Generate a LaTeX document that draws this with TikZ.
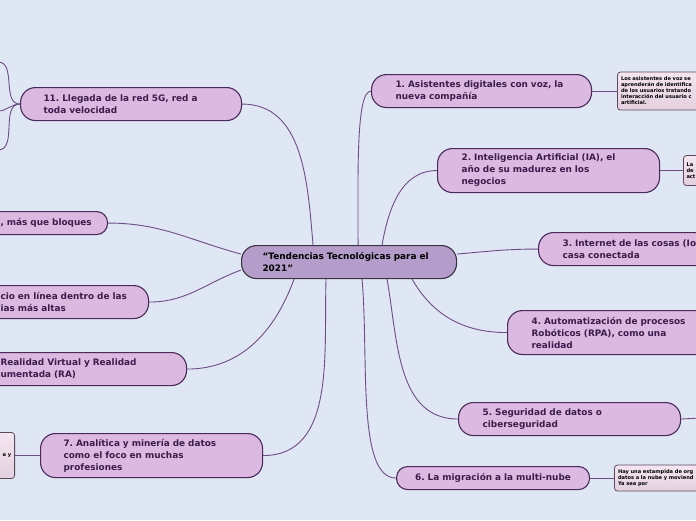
\documentclass[tikz,border=0pt]{standalone}
\usepackage{fontspec}
\setmainfont{DejaVu Sans}
\usetikzlibrary{positioning, backgrounds}
\frenchspacing

\definecolor{sky}{HTML}{DFE7F4}
\definecolor{topicfill}{HTML}{DCB9E1}
\definecolor{topicline}{HTML}{4A2A5A}
\definecolor{topictext}{HTML}{3A1D4A}
\definecolor{hubfill}{HTML}{B49CCB}
\definecolor{hubline}{HTML}{3A3340}
\definecolor{wireline}{HTML}{6E4C84}
\definecolor{memotop}{HTML}{F4E6F0}
\definecolor{memobot}{HTML}{E4D0DF}
\definecolor{memoline}{HTML}{5C4A5C}

\begin{document}
\begin{tikzpicture}[
    x=1pt, y=-1pt, node distance=25pt,
    topic/.style={draw=topicline, fill=topicfill, line width=1.1pt,
        rounded corners=15pt, text=topictext, align=left, anchor=north west,
        inner xsep=24pt, inner ysep=0pt, minimum height=33pt,
        font=\bfseries\fontsize{8.9}{12}\selectfont},
    oneline/.style={rounded corners=11pt, minimum height=23pt},
    threeline/.style={minimum height=44pt},
    hub/.style={topic, draw=hubline, fill=hubfill, text=black},
    memo/.style={draw=memoline, top color=memotop, bottom color=memobot,
        line width=0.8pt, rounded corners=3pt, align=left, inner sep=3.5pt,
        text width=100pt, font=\bfseries\fontsize{5.1}{6}\selectfont},
    wire/.style={draw=wireline, line width=0.9pt}
  ]
  \useasboundingbox (0,0) rectangle (696,520);
  \clip (0,0) rectangle (696,520);

  \node[hub, inner xsep=21pt, text width=173pt] (hub) at (241,245)
    {“Tendencias Tecnológicas para el\\2021”};

  % right branches
  \node[topic, text width=172pt] (t1) at (371,74)
    {1. Asistentes digitales con voz, la\\nueva compañía};
  \node[topic, threeline, text width=174pt] (t2) at (437,148)
    {2. Inteligencia Artificial (IA), el\\año de su madurez en los\\negocios};
  \node[topic, text width=180pt] (t3) at (538,232)
    {3. Internet de las cosas (Io\\casa conectada};
  \node[topic, threeline, text width=170pt] (t4) at (507,310)
    {4. Automatización de procesos\\Robóticos (RPA), como una\\realidad};
  \node[topic, text width=174pt] (t5) at (458,402)
    {5. Seguridad de datos o\\ciberseguridad};
  \node[topic, oneline, align=center, inner xsep=18pt, text width=157pt] (t6)
    at (396,466) {6. La migración a la multi-nube};

  % left branches
  \node[topic, threeline, inner xsep=23pt, text width=176pt] (t7) at (40,433)
    {7. Analítica y minería de datos\\como el foco en muchas\\profesiones};
  \node[topic, inner xsep=26pt, text width=160pt] (t8) at (-26,352)
    {Realidad Virtual y Realidad\\umentada (RA)};
  \node[topic, inner xsep=20pt, text width=128pt] (t9) at (-20,285)
    {cio en línea dentro de las\\ias más altas};
  \node[topic, oneline, inner xsep=15pt, text width=92pt] (t10) at (-15,211)
    {, más que bloques};
  \node[topic, inner xsep=23pt, text width=175pt] (t11) at (20,87)
    {11. Llegada de la red 5G, red a\\toda velocidad};

  % notes
  \node[memo, right=of t1, minimum height=38pt] (n1)
    {Los asistentes de voz se\\aprenderán de identifica\\de los usuarios tratando\\interacción del usuario c\\artificial.};
  \node[memo, right=23pt of t2, inner xsep=3pt, minimum height=30pt] (n2)
    {La\\de\\act};
  \node[memo, right=24pt of t6, minimum height=26pt] (n3)
    {Hay una estampida de org\\datos a la nube y moviend\\Ya sea por};
  \node[memo, left=of t7, align=right, minimum height=46pt] (n4) {a y};

  \coordinate (o1) at (-2,62);
  \coordinate (o2) at (-2,111);
  \coordinate (o3) at (-2,150);
  \coordinate (o5) at (700,418);

  \begin{scope}[on background layer]
    \fill[sky] (0,0) rectangle (696,520);
    \draw[wire] ([xshift=9pt]hub.north) to[out=90, in=180,
      out looseness=1.2, in looseness=0.25] (t1.west);
    \draw[wire] ([xshift=33pt]hub.north) to[out=80, in=180] (t2.west);
    \draw[wire] ([yshift=8pt]hub.east) to[out=5, in=180] (t3.west);
    \draw[wire] ([xshift=63pt]hub.south) to[out=-60, in=180] (t4.west);
    \draw[wire] ([xshift=38pt]hub.south) to[out=-80, in=180] (t5.west);
    \draw[wire] ([xshift=13pt]hub.south) to[out=-85, in=180,
      in looseness=0.5] (t6.west);
    \draw[wire] ([xshift=-23pt]hub.south) to[out=-92, in=0] (t7.east);
    \draw[wire] ([xshift=-55pt]hub.south) to[out=-110, in=0] (t8.east);
    \draw[wire] ([yshift=-8pt]hub.west) to[out=200, in=0] (t9.east);
    \draw[wire] ([yshift=8pt]hub.west) to[out=165, in=0] (t10.east);
    \draw[wire] ([xshift=-36pt]hub.north) to[out=95, in=0] (t11.east);

    \draw[wire] (t11.west) to[out=180, in=0] (o1);
    \draw[wire] (t11.west) to[out=180, in=0] (o2);
    \draw[wire] (t11.west) to[out=180, in=0] (o3);

    \draw[wire] (t1.east) -- (n1.west);
    \draw[wire] (t2.east) -- (n2.west);
    \draw[wire] (t5.east) -- (o5);
    \draw[wire] (t6.east) -- (n3.west);
    \draw[wire] (t7.west) -- (n4.east);
  \end{scope}
\end{tikzpicture}
\end{document}
